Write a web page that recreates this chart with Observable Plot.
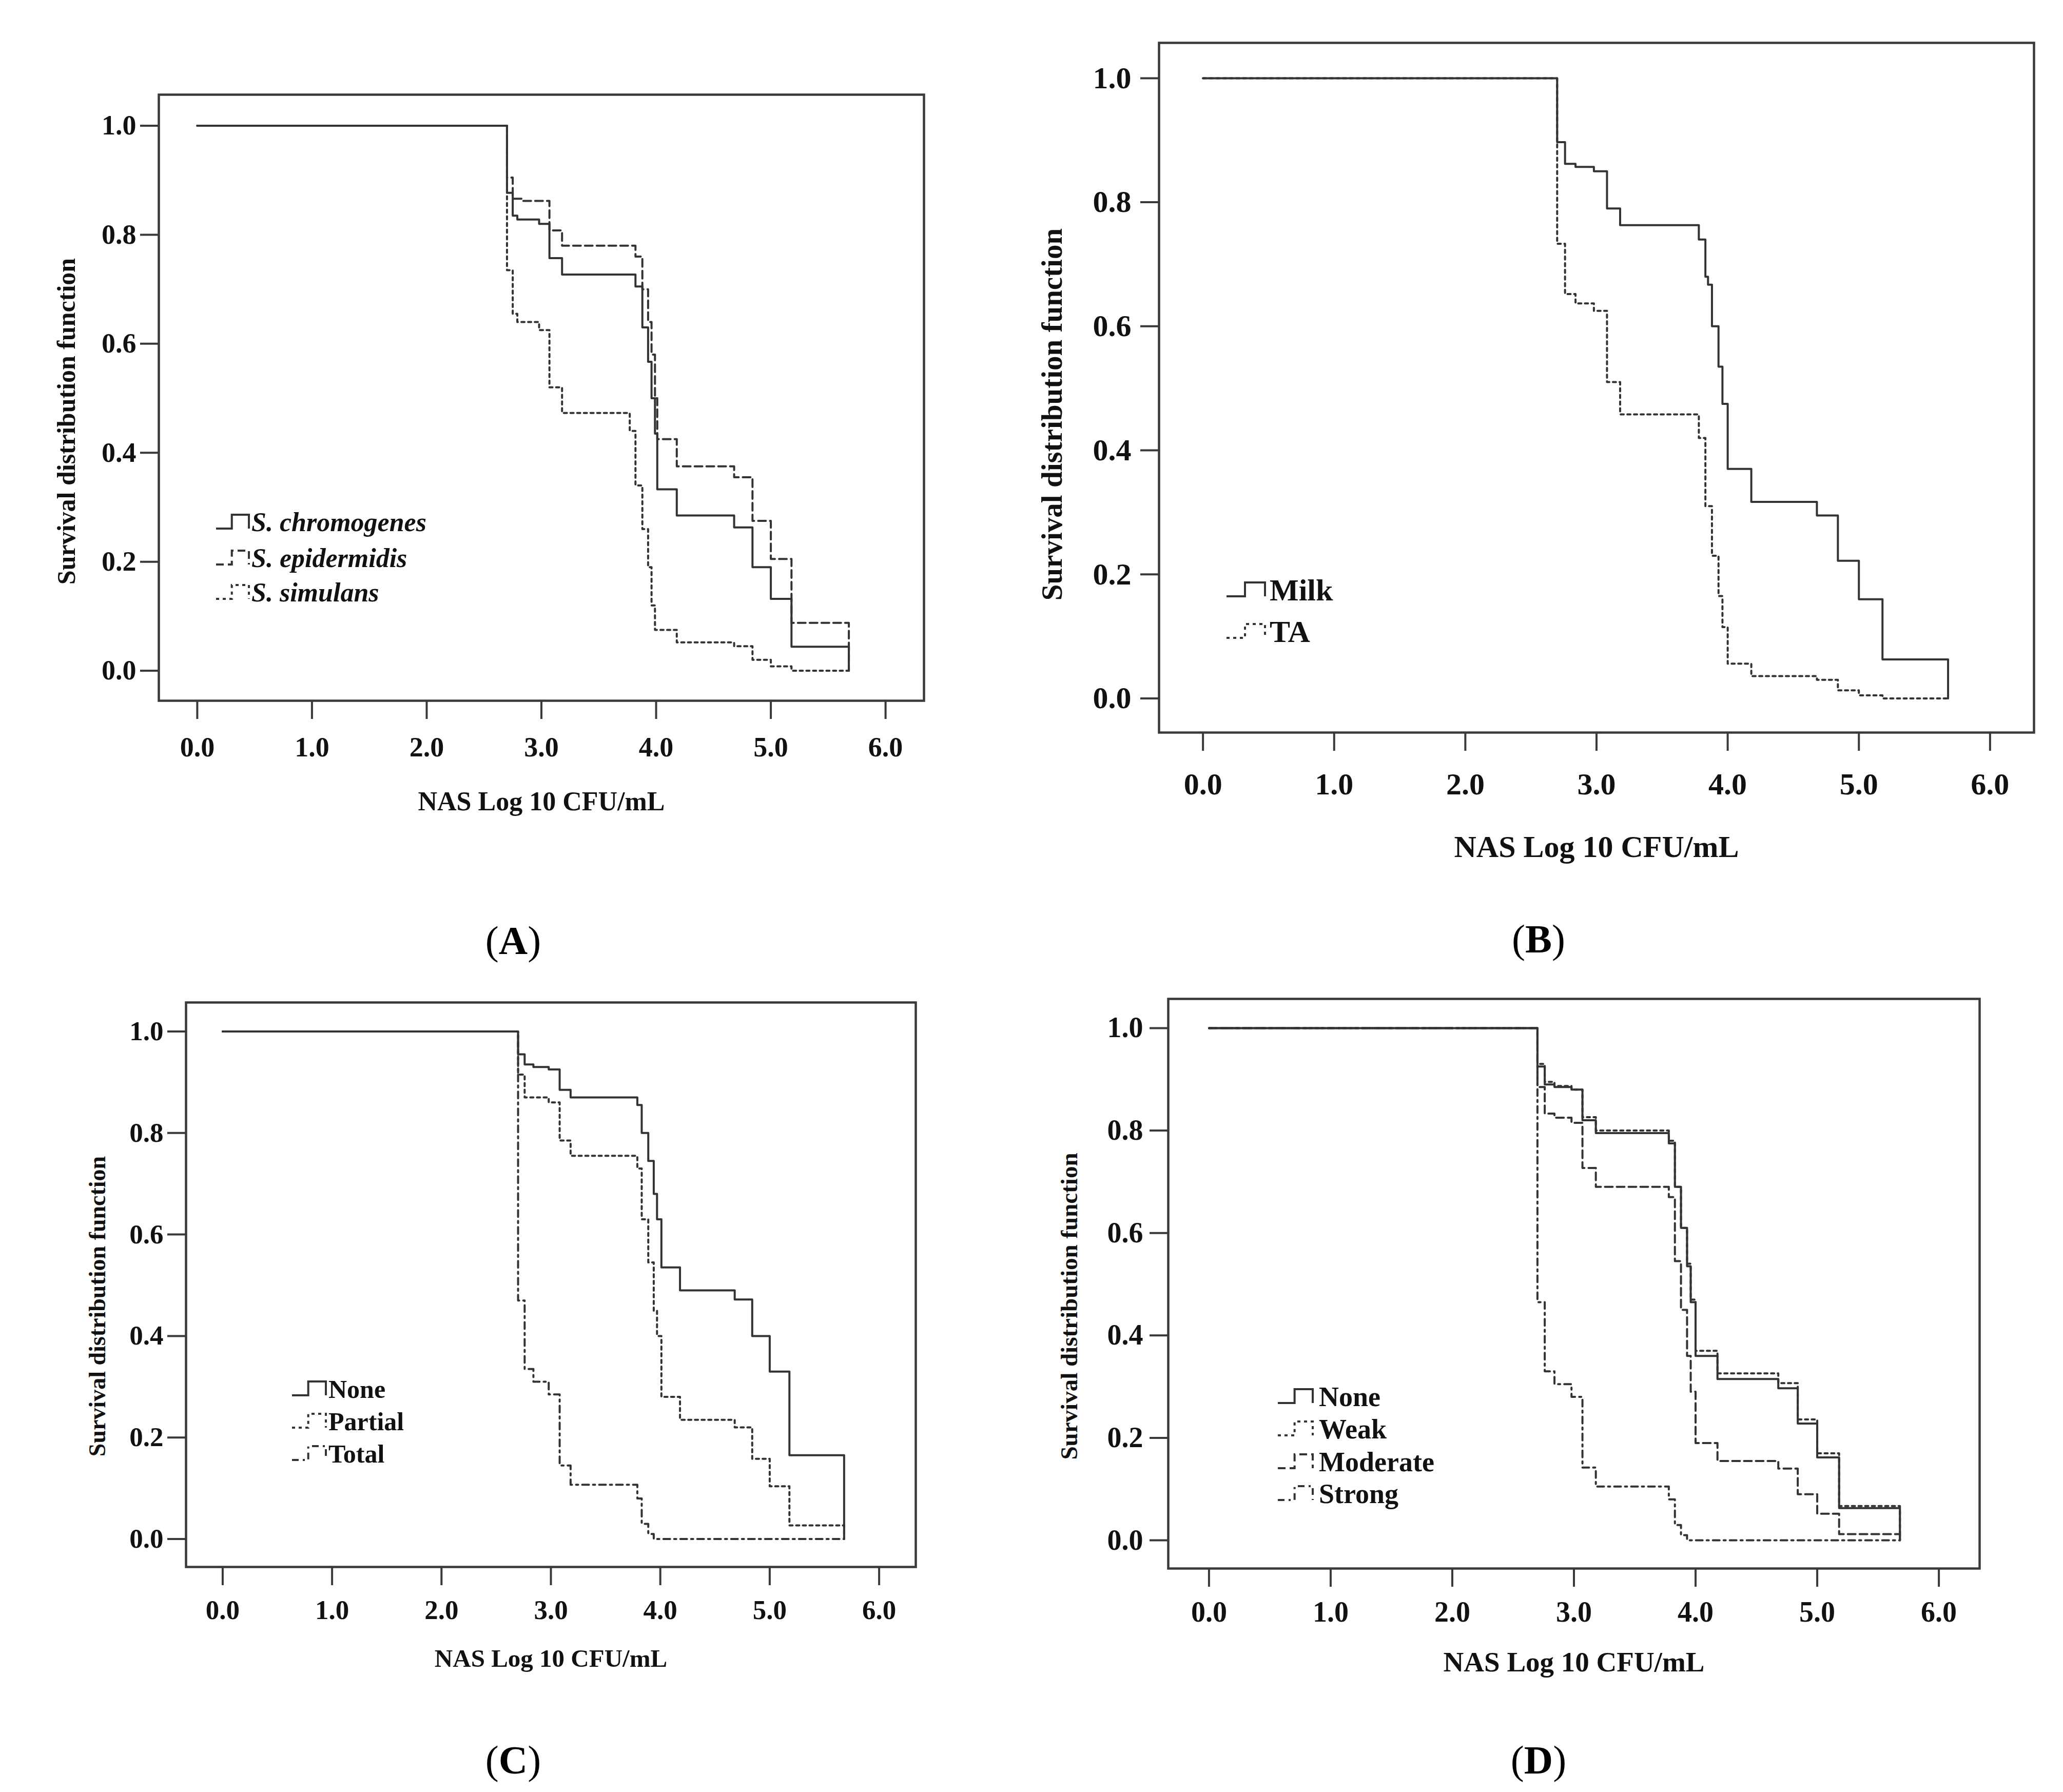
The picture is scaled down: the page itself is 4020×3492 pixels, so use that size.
<!DOCTYPE html>
<html>
<head>
<meta charset="utf-8">
<script src="https://cdn.jsdelivr.net/npm/d3@7"></script>
<script src="https://cdn.jsdelivr.net/npm/@observablehq/plot@0.6"></script>
<style>
  body { margin: 0; background: #fff; width: 4020px; height: 3492px; position: relative; overflow: hidden;
         font-family: "Liberation Serif", "Times New Roman", serif; }
  .panel { position: absolute; }
  .cap { position: absolute; font-size: 78px; color: #000; transform: translate(-50%, -50%); white-space: nowrap; }
  .cap b { font-weight: bold; }
</style>
</head>
<body>
<div id="A" class="panel"></div>
<div id="B" class="panel"></div>
<div id="C" class="panel"></div>
<div id="D" class="panel"></div>
<div class="cap" style="left:1000px;top:1833px">(<b>A</b>)</div>
<div class="cap" style="left:2998px;top:1830px">(<b>B</b>)</div>
<div class="cap" style="left:1000px;top:3430px">(<b>C</b>)</div>
<div class="cap" style="left:2998px;top:3430px">(<b>D</b>)</div>
<script>
// shared axes
const xTicks = [0, 1, 2, 3, 4, 5, 6]
const yTicks = [0, 0.2, 0.4, 0.6, 0.8, 1.0]
const xTitle = "NAS Log 10 CFU/mL"
const yTitle = "Survival distribution function"

// (A) species
const aTimes = [0, 2.70, 2.75, 2.79, 2.84, 2.98, 3.07, 3.18, 3.77, 3.82, 3.88, 3.93, 3.96, 3.99, 4.01, 4.18, 4.68, 4.84, 5.00, 5.18, 5.68]
const aChromogenes = [1, 0.877, 0.835, 0.828, 0.828, 0.820, 0.757, 0.727, 0.727, 0.705, 0.630, 0.567, 0.500, 0.435, 0.333, 0.285, 0.263, 0.190, 0.132, 0.044, 0]
const aEpidermidis = [1, 0.905, 0.866, 0.866, 0.862, 0.862, 0.808, 0.780, 0.780, 0.760, 0.700, 0.640, 0.580, 0.500, 0.425, 0.375, 0.355, 0.275, 0.205, 0.088, 0]
const aSimulans    = [1, 0.735, 0.655, 0.640, 0.640, 0.625, 0.520, 0.473, 0.440, 0.340, 0.260, 0.190, 0.120, 0.075, 0.075, 0.052, 0.045, 0.020, 0.008, 0, 0]

// (B) source
const bTimes = [0, 2.70, 2.76, 2.84, 2.98, 3.08, 3.18, 3.78, 3.83, 3.85, 3.88, 3.93, 3.96, 4.00, 4.18, 4.68, 4.84, 5.00, 5.18, 5.68]
const bMilk = [1, 0.897, 0.862, 0.857, 0.850, 0.790, 0.763, 0.740, 0.680, 0.667, 0.600, 0.535, 0.475, 0.370, 0.317, 0.295, 0.222, 0.160, 0.063, 0]
const bTA   = [1, 0.733, 0.652, 0.637, 0.625, 0.510, 0.458, 0.420, 0.310, 0.310, 0.230, 0.165, 0.115, 0.056, 0.036, 0.030, 0.013, 0.005, 0, 0]

// (C) inhibition
const cTimes = [0, 2.70, 2.76, 2.84, 2.98, 3.08, 3.18, 3.79, 3.83, 3.89, 3.94, 3.97, 4.01, 4.18, 4.68, 4.84, 5.00, 5.18, 5.68]
const cNone    = [1, 0.955, 0.935, 0.930, 0.925, 0.885, 0.870, 0.855, 0.800, 0.745, 0.680, 0.630, 0.535, 0.490, 0.472, 0.400, 0.330, 0.165, 0]
const cPartial = [1, 0.915, 0.870, 0.870, 0.860, 0.785, 0.755, 0.730, 0.630, 0.545, 0.450, 0.400, 0.280, 0.235, 0.220, 0.158, 0.104, 0.027, 0]
const cTotal   = [1, 0.470, 0.335, 0.310, 0.285, 0.145, 0.107, 0.080, 0.030, 0.010, 0, 0, 0, 0, 0, 0, 0, 0, 0]

// (D) biofilm
const dTimes = [0, 2.70, 2.76, 2.84, 2.98, 3.07, 3.18, 3.78, 3.83, 3.88, 3.93, 3.96, 4.00, 4.18, 4.68, 4.84, 5.00, 5.18, 5.68]
const dNone     = [1, 0.925, 0.890, 0.885, 0.880, 0.820, 0.795, 0.775, 0.690, 0.610, 0.535, 0.465, 0.360, 0.315, 0.297, 0.228, 0.162, 0.063, 0]
const dWeak     = [1, 0.930, 0.895, 0.887, 0.880, 0.826, 0.800, 0.780, 0.690, 0.610, 0.540, 0.470, 0.370, 0.326, 0.307, 0.236, 0.170, 0.067, 0]
const dModerate = [1, 0.885, 0.833, 0.825, 0.815, 0.727, 0.690, 0.670, 0.545, 0.450, 0.360, 0.290, 0.190, 0.155, 0.140, 0.090, 0.052, 0.012, 0]
const dStrong   = [1, 0.465, 0.330, 0.305, 0.280, 0.142, 0.105, 0.080, 0.030, 0.010, 0, 0, 0, 0, 0, 0, 0, 0, 0]

const dash = {solid: null, dot: "6,7", dashed: "15,8", dashdot: "13,8,4,8"}
const ink = "#333"

function panel(id, times, series, cfg) {
  const ml = 260, mr = 20, mt = 20, mb = 270
  const w = cfg.R - cfg.L, h = cfg.B - cfg.T
  const rows = series.flatMap(s => times.map((t, i) => ({t, s: s.values[i], name: s.name})))

  const chart = Plot.plot({
    width: w + ml + mr, height: h + mt + mb,
    marginLeft: ml, marginRight: mr, marginTop: mt, marginBottom: mb,
    style: {fontFamily: "Liberation Serif, serif", fontWeight: "bold", color: "#111", background: "transparent", overflow: "visible"},
    x: {domain: [-0.335, 6.335]},
    y: {domain: [-0.055, 1.057]},
    marks: [
      Plot.frame({stroke: "#3a3a3a", strokeWidth: 4.5}),
      Plot.axisX({ticks: xTicks, tickFormat: d => d.toFixed(1), tickSize: 36, tickPadding: cfg.xPad,
        fontSize: cfg.tick, strokeWidth: 4, stroke: "#3a3a3a", label: null}),
      Plot.axisY({ticks: yTicks, tickFormat: d => d.toFixed(1), tickSize: 36, tickPadding: cfg.yPad,
        fontSize: cfg.tick, strokeWidth: 4, stroke: "#3a3a3a", label: null}),
      ...series.map(s => Plot.line(rows.filter(r => r.name === s.name), {
        x: "t", y: "s", curve: "step-after", stroke: ink, strokeWidth: 4,
        strokeDasharray: dash[s.style]
      })),
      Plot.text([xTitle], {frameAnchor: "bottom", dy: cfg.xTitleOff, fontSize: cfg.xTitle, lineAnchor: "middle", fill: "#111"}),
      Plot.text([yTitle], {frameAnchor: "left", dx: -cfg.yTitleOff, dy: cfg.yTitleShift, rotate: -90,
        textAnchor: "middle", fontSize: cfg.yTitle, lineAnchor: "middle", fill: "#111"})
    ]
  })

  // legend: step swatch + label, inside the frame
  const lg = d3.select(chart).append("g").attr("transform", `translate(${ml + cfg.legX},${mt})`)
  series.forEach((s, i) => {
    const y = cfg.legY[i], sw = cfg.legW
    lg.append("path")
      .attr("d", `M0,${y + 13}H${sw * 0.48}V${y - 14}H${sw}V${y + 13}`)
      .attr("fill", "none").attr("stroke", ink).attr("stroke-width", 4)
      .attr("stroke-dasharray", dash[s.style])
    lg.append("text")
      .attr("x", sw + cfg.legGap).attr("y", y).attr("dy", "0.35em")
      .attr("text-anchor", "start")
      .attr("font-size", cfg.legend).attr("font-weight", "bold")
      .attr("font-style", cfg.italic ? "italic" : null)
      .attr("fill", "#111")
      .text(s.name)
  })

  const el = document.getElementById(id)
  el.style.left = (cfg.L - ml) + "px"
  el.style.top = (cfg.T - mt) + "px"
  el.append(chart)
}

panel("A", aTimes, [
  {name: "S. chromogenes", values: aChromogenes, style: "solid"},
  {name: "S. epidermidis", values: aEpidermidis, style: "dashed"},
  {name: "S. simulans", values: aSimulans, style: "dot"}
], {L: 309, T: 184, R: 1800, B: 1365, tick: 54, xPad: 34, yPad: 8, xTitle: 52, yTitle: 50,
    xTitleOff: 197, yTitleOff: 180, yTitleShift: 46, legend: 52, italic: true,
    legX: 112, legY: [833, 903, 970], legW: 64, legGap: 5})

panel("B", bTimes, [
  {name: "Milk", values: bMilk, style: "solid"},
  {name: "TA", values: bTA, style: "dot"}
], {L: 2258, T: 83, R: 3963, B: 1427, tick: 60, xPad: 42, yPad: 18, xTitle: 60, yTitle: 57,
    xTitleOff: 223, yTitleOff: 208, yTitleShift: 52, legend: 60,
    legX: 132, legY: [1066, 1147], legW: 75, legGap: 9})

panel("C", cTimes, [
  {name: "None", values: cNone, style: "solid"},
  {name: "Partial", values: cPartial, style: "dot"},
  {name: "Total", values: cTotal, style: "dashdot"}
], {L: 362, T: 1953, R: 1784, B: 3053, tick: 53, xPad: 28, yPad: 8, xTitle: 49, yTitle: 46,
    xTitleOff: 179, yTitleOff: 172, yTitleShift: 42, legend: 50,
    legX: 207, legY: [753, 816, 879], legW: 66, legGap: 5})

panel("D", dTimes, [
  {name: "None", values: dNone, style: "solid"},
  {name: "Weak", values: dWeak, style: "dot"},
  {name: "Moderate", values: dModerate, style: "dashed"},
  {name: "Strong", values: dStrong, style: "dashdot"}
], {L: 2276, T: 1946, R: 3857, B: 3056, tick: 56, xPad: 28, yPad: 13, xTitle: 55, yTitle: 47,
    xTitleOff: 183, yTitleOff: 193, yTitleShift: 44, legend: 54,
    legX: 214, legY: [775, 838, 902, 964], legW: 68, legGap: 12})
</script>
</body>
</html>
